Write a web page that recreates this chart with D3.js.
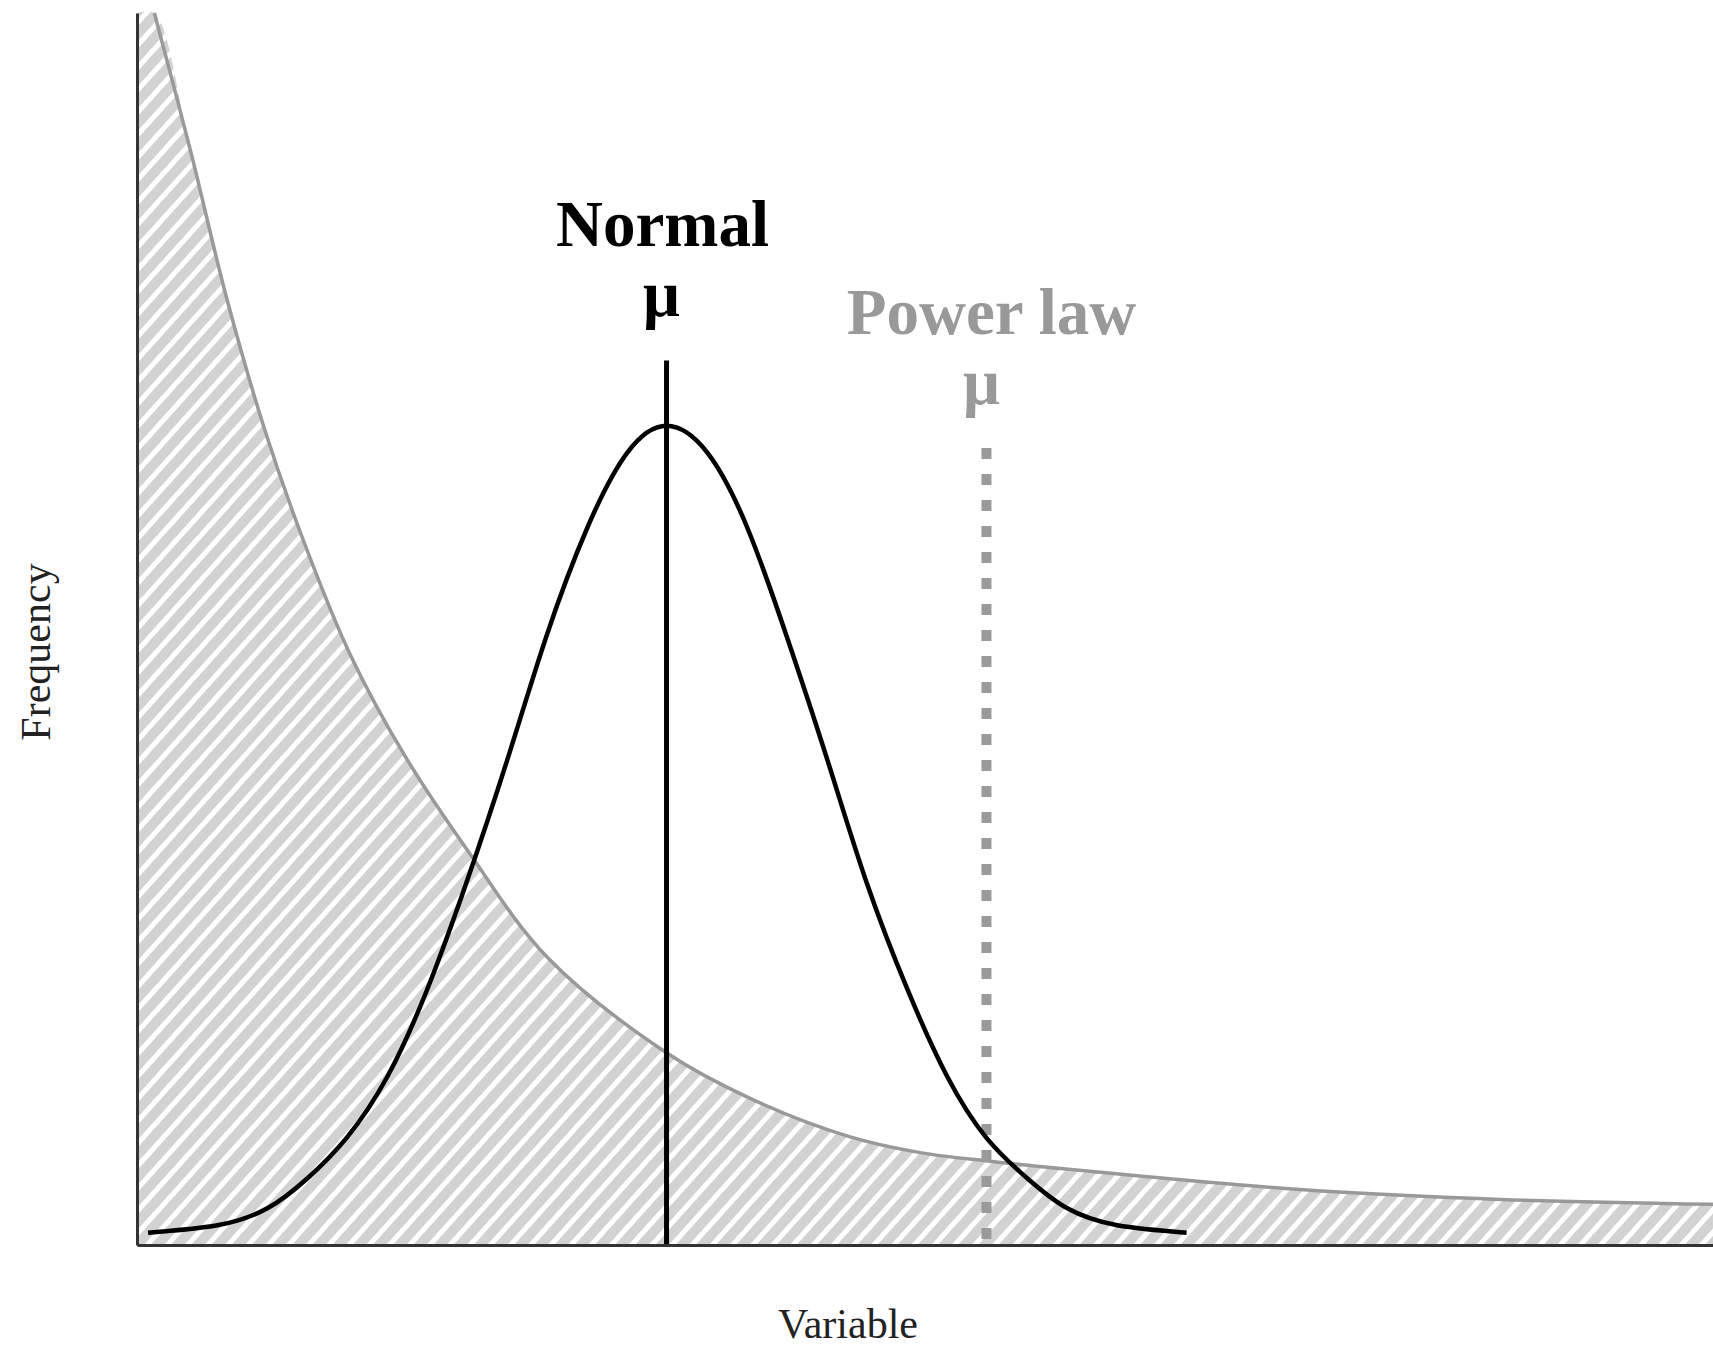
<!DOCTYPE html>
<html>
<head>
<meta charset="utf-8">
<script src="https://cdn.jsdelivr.net/npm/d3@7/dist/d3.min.js"></script>
<style>
  html, body { margin: 0; padding: 0; background: #fff; }
  svg { display: block; font-family: "Liberation Serif", "Times New Roman", serif; }
</style>
</head>
<body>
<div id="chart"></div>
<script>
// Power law curve (variable 0-100, frequency 0-100)
var powerX = [1.1, 3.4, 5.7, 8.1, 10.7, 13.5, 17.0, 21.1, 26.0, 33.6,
              38.9, 45.2, 49.7, 54.1, 61.1, 73.8, 86.5, 100];
var powerY = [100, 88.8, 76.8, 66.2, 56.7, 48.0, 39.7, 31.8, 23.4, 15.6,
              11.9, 8.8, 7.5, 6.8, 5.9, 4.5, 3.7, 3.3];

// Normal curve
var normalX = [0.7, 5.1, 8.3, 10.8, 13.3, 15.9, 18.4, 20.9, 23.5, 26.0, 28.6, 31.1, 33.6,
               36.2, 38.7, 41.2, 43.8, 46.3, 48.9, 51.4, 53.9, 56.5, 59.0, 62.2, 66.6];
var normalY = [1.0, 1.6, 3.0, 5.4, 8.7, 13.7, 20.7, 29.4, 39.4, 49.5, 58.3, 64.3, 66.5,
               64.3, 58.3, 49.5, 39.4, 29.4, 20.7, 13.7, 8.7, 5.4, 3.0, 1.6, 1.0];

// means: position on the variable axis and how high the marker line reaches
var meanNames = ["Normal", "Power law"];
var meanX = [33.6, 53.9];
var meanTop = [71.8, 64.7];

var xLabel = "Variable", yLabel = "Frequency";

var W = 1713, H = 1347;
var svg = d3.select("#chart").append("svg").attr("width", W).attr("height", H);

var x = d3.scaleLinear().domain([0, 100]).range([137, W]);
var y = d3.scaleLinear().domain([0, 100]).range([1245, 13]);

var power = powerX.map(function (v, i) { return { x: v, y: powerY[i] }; });
var normal = normalX.map(function (v, i) { return { x: v, y: normalY[i] }; });

// hatched fill under the power law
var defs = svg.append("defs");
var pat = defs.append("pattern").attr("id", "hatch")
  .attr("patternUnits", "userSpaceOnUse")
  .attr("width", 15).attr("height", 15)
  .attr("patternTransform", "rotate(42)");
pat.append("rect").attr("width", 15).attr("height", 15).attr("fill", "#fff");
pat.append("rect").attr("width", 10).attr("height", 15).attr("fill", "#d2d2d2");

var area = d3.area().curve(d3.curveCatmullRom)
  .x(function (d) { return x(d.x); }).y0(y(0)).y1(function (d) { return y(d.y); });
svg.append("path")
  .datum([{ x: 0, y: powerY[0] }].concat(power))
  .attr("d", area).attr("fill", "url(#hatch)");

var powerLine = d3.line().curve(d3.curveCatmullRom)
  .x(function (d) { return x(d.x); }).y(function (d) { return y(d.y); });
var normalLine = d3.line().curve(d3.curveNatural)
  .x(function (d) { return x(d.x); }).y(function (d) { return y(d.y); });

svg.append("path").datum(power).attr("d", powerLine)
  .attr("fill", "none").attr("stroke", "#999").attr("stroke-width", 3.5);

// power law mean, dotted
svg.append("line")
  .attr("x1", x(meanX[1])).attr("x2", x(meanX[1]))
  .attr("y1", y(meanTop[1])).attr("y2", y(0))
  .attr("stroke", "#9a9a9a").attr("stroke-width", 10)
  .attr("stroke-dasharray", "11,15");

svg.append("path").datum(normal).attr("d", normalLine)
  .attr("fill", "none").attr("stroke", "#000").attr("stroke-width", 4.5);

// normal mean
svg.append("line")
  .attr("x1", x(meanX[0])).attr("x2", x(meanX[0]))
  .attr("y1", y(meanTop[0])).attr("y2", y(0))
  .attr("stroke", "#000").attr("stroke-width", 5);

// axes without ticks
svg.append("g").attr("transform", "translate(0," + y(0) + ")")
  .call(d3.axisBottom(x).tickValues([]).tickSizeOuter(0));
svg.append("g").attr("transform", "translate(" + x(0) + ",0)")
  .call(d3.axisLeft(y).tickValues([]).tickSizeOuter(0));
svg.selectAll(".domain").attr("stroke", "#333").attr("stroke-width", 3);

// mean labels
var labelColor = ["#000", "#999"];
var labelDx = [-4, 5];
meanNames.forEach(function (name, i) {
  var cx = x(meanX[i]), top = y(meanTop[i]);
  svg.append("text").attr("x", cx + labelDx[i]).attr("y", top - 114)
    .attr("text-anchor", "middle").attr("font-size", 65).attr("font-weight", "bold")
    .attr("fill", labelColor[i]).text(name);
  svg.append("text").attr("x", cx - 5).attr("y", top - 44)
    .attr("text-anchor", "middle").attr("font-size", 65).attr("font-weight", "bold")
    .attr("fill", labelColor[i]).text("\u03bc");
});

svg.append("text").attr("x", 848).attr("y", 1338)
  .attr("text-anchor", "middle").attr("font-size", 42).attr("fill", "#222")
  .text(xLabel);
svg.append("text").attr("transform", "translate(50,652) rotate(-90)")
  .attr("text-anchor", "middle").attr("font-size", 42).attr("fill", "#222")
  .text(yLabel);
</script>
</body>
</html>
